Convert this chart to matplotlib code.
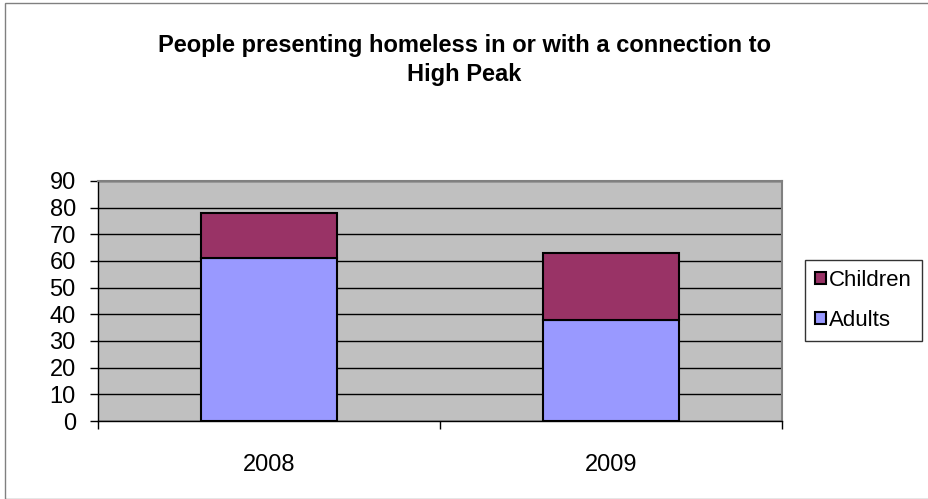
import matplotlib.pyplot as plt
from matplotlib.patches import Rectangle

years = ["2008", "2009"]
adults = [61, 38]
children = [17, 25]

plt.rcParams['font.family'] = ['Liberation Sans', 'DejaVu Sans']

fig = plt.figure(figsize=(9.29, 4.99), dpi=100)
ax = fig.add_axes([0.1055, 0.1563, 0.7363, 0.481])
ax.set_facecolor('#C0C0C0')

x = range(len(years))
ax.bar(x, adults, width=0.4, color='#9999FF', edgecolor='black', linewidth=1.5, label='Adults', zorder=3)
ax.bar(x, children, width=0.4, bottom=adults, color='#993366', edgecolor='black', linewidth=1.5, label='Children', zorder=3)

ax.set_xlim(-0.5, 1.5)
ax.set_ylim(0, 90)
ax.set_yticks(range(0, 91, 10))
ax.yaxis.grid(True, color='black', linewidth=1, zorder=1)
ax.set_axisbelow(True)

ax.set_xticks(list(x))
ax.set_xticklabels(years)
ax.set_xticks([-0.5, 0.5, 1.5], minor=True)
ax.tick_params(axis='x', which='major', length=0, labelsize=17, pad=24)
ax.tick_params(axis='x', which='minor', length=6, width=1, direction='out')
ax.tick_params(axis='y', length=6, width=1, direction='out', labelsize=17, pad=10)

for s in ['left', 'bottom']:
    ax.spines[s].set_color('black')
    ax.spines[s].set_linewidth(1)
for s in ['top', 'right']:
    ax.spines[s].set_color('#808080')
    ax.spines[s].set_linewidth(1.5)

handles, labels = ax.get_legend_handles_labels()
leg = fig.legend(handles[::-1], labels[::-1], loc='upper left', bbox_to_anchor=(0.866, 0.479),
                 fontsize=16, frameon=True, fancybox=False, edgecolor='black',
                 handlelength=0.5, handleheight=0.5, handletextpad=0.15, labelspacing=0.85,
                 borderpad=0.45, borderaxespad=0)
leg.get_frame().set_linewidth(1)

fig.text(0.5, 0.88, "People presenting homeless in or with a connection to\nHigh Peak",
         ha='center', va='center', fontsize=17, fontweight='bold', linespacing=1.35)

fig.patches.append(Rectangle((0.005, 0.0), 1.2, 0.994, transform=fig.transFigure,
                             fill=False, edgecolor='#808080', linewidth=1))

fig.savefig('out.png', dpi=100)
